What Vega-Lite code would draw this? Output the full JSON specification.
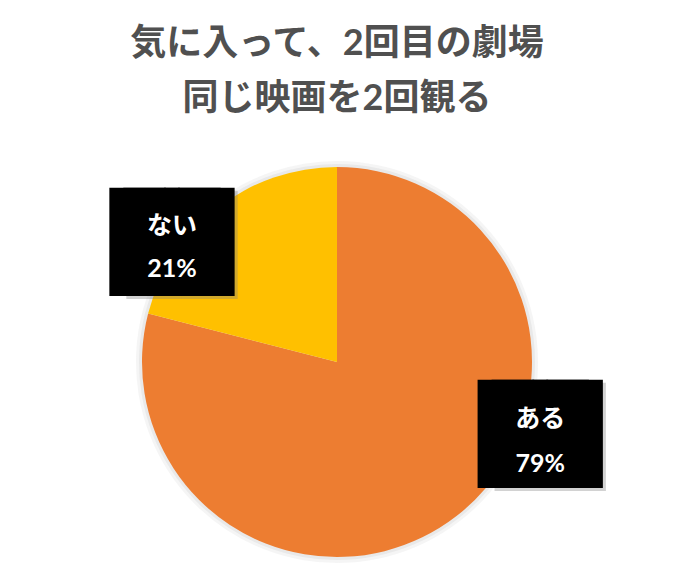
{
  "$schema": "https://vega.github.io/schema/vega-lite/v6.json",
  "width": 674,
  "height": 430,
  "padding": {"left": 0, "right": 0, "top": 26, "bottom": 0},
  "background": "white",
  "title": {
    "text": ["気に入って、2回目の劇場", "同じ映画を2回観る"],
    "fontSize": 36,
    "lineHeight": 55,
    "font": "Lato, 'Noto Sans CJK JP', sans-serif",
    "fontWeight": "bold",
    "color": "#505050",
    "anchor": "middle",
    "offset": 29
  },
  "data": {
    "values": [
      {"category": "ある", "value": 79, "pct": "79%"},
      {"category": "ない", "value": 21, "pct": "21%"}
    ]
  },
  "encoding": {
    "theta": {"field": "value", "type": "quantitative", "stack": true},
    "detail": {"field": "category", "type": "nominal"},
    "order": {"field": "category", "sort": "ascending"}
  },
  "layer": [
    {
      "mark": {"type": "arc", "outerRadius": 201, "fill": "#9a9a9a", "opacity": 0.1}
    },
    {
      "mark": {"type": "arc", "outerRadius": 198, "fill": "#9a9a9a", "opacity": 0.13}
    },
    {
      "mark": {"type": "arc", "outerRadius": 195},
      "encoding": {
        "color": {
          "field": "category",
          "type": "nominal",
          "scale": {"domain": ["ある", "ない"], "range": ["#ED7D31", "#FFC000"]},
          "legend": null
        }
      }
    },
    {
      "mark": {"type": "text", "font": "DejaVu Sans Mono", "fontSize": 91, "baseline": "middle", "align": "center", "color": "#7f7f7f", "opacity": 0.35, "radius": 204, "thetaOffset": -0.283, "dx": 10, "dy": 7},
      "encoding": {
        "text": {"condition": {"test": "datum.category === 'ない'", "value": "██"}, "value": ""}
      }
    },
    {
      "mark": {"type": "text", "font": "DejaVu Sans Mono", "fontSize": 91, "baseline": "middle", "align": "center", "color": "black", "radius": 204, "thetaOffset": -0.283, "dx": -7, "dy": 4},
      "encoding": {
        "text": {"condition": {"test": "datum.category === 'ない'", "value": "██"}, "value": ""}
      }
    },
    {
      "mark": {"type": "text", "font": "DejaVu Sans Mono", "fontSize": 91, "baseline": "middle", "align": "center", "color": "black", "radius": 204, "thetaOffset": -0.283, "dx": 7, "dy": 4},
      "encoding": {
        "text": {"condition": {"test": "datum.category === 'ない'", "value": "██"}, "value": ""}
      }
    },
    {
      "mark": {"type": "text", "font": "DejaVu Sans Mono", "fontSize": 91, "baseline": "middle", "align": "center", "color": "#7f7f7f", "opacity": 0.35, "radius": 216, "thetaOffset": -0.566, "dx": 10, "dy": 6},
      "encoding": {
        "text": {"condition": {"test": "datum.category === 'ある'", "value": "██"}, "value": ""}
      }
    },
    {
      "mark": {"type": "text", "font": "DejaVu Sans Mono", "fontSize": 91, "baseline": "middle", "align": "center", "color": "black", "radius": 216, "thetaOffset": -0.566, "dx": -7, "dy": 3},
      "encoding": {
        "text": {"condition": {"test": "datum.category === 'ある'", "value": "██"}, "value": ""}
      }
    },
    {
      "mark": {"type": "text", "font": "DejaVu Sans Mono", "fontSize": 91, "baseline": "middle", "align": "center", "color": "black", "radius": 216, "thetaOffset": -0.566, "dx": 7, "dy": 3},
      "encoding": {
        "text": {"condition": {"test": "datum.category === 'ある'", "value": "██"}, "value": ""}
      }
    },
    {
      "mark": {"type": "text", "font": "Lato, 'Noto Sans CJK JP', sans-serif", "fontWeight": "bold", "fontSize": 25, "baseline": "middle", "align": "center", "color": "white", "radius": 204, "thetaOffset": -0.283, "dy": -16},
      "encoding": {
        "text": {"condition": {"test": "datum.category === 'ない'", "field": "category"}, "value": ""}
      }
    },
    {
      "mark": {"type": "text", "font": "Lato, 'Noto Sans CJK JP', sans-serif", "fontWeight": "bold", "fontSize": 25, "baseline": "middle", "align": "center", "color": "white", "radius": 204, "thetaOffset": -0.283, "dy": 27},
      "encoding": {
        "text": {"condition": {"test": "datum.category === 'ない'", "field": "pct"}, "value": ""}
      }
    },
    {
      "mark": {"type": "text", "font": "Lato, 'Noto Sans CJK JP', sans-serif", "fontWeight": "bold", "fontSize": 25, "baseline": "middle", "align": "center", "color": "white", "radius": 216, "thetaOffset": -0.566, "dy": -16},
      "encoding": {
        "text": {"condition": {"test": "datum.category === 'ある'", "field": "category"}, "value": ""}
      }
    },
    {
      "mark": {"type": "text", "font": "Lato, 'Noto Sans CJK JP', sans-serif", "fontWeight": "bold", "fontSize": 25, "baseline": "middle", "align": "center", "color": "white", "radius": 216, "thetaOffset": -0.566, "dy": 29},
      "encoding": {
        "text": {"condition": {"test": "datum.category === 'ある'", "field": "pct"}, "value": ""}
      }
    }
  ],
  "config": {"view": {"stroke": null}}
}
